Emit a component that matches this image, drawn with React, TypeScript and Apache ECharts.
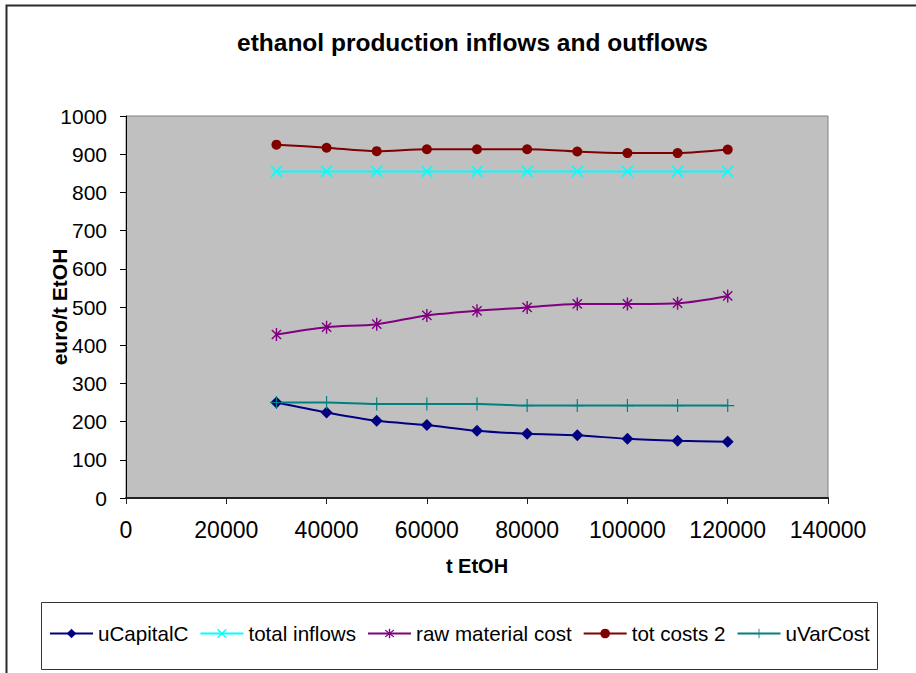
import React, { useEffect, useRef } from "react";
import * as echarts from "echarts";

// Annual production (t EtOH) and unit values (euro/t EtOH)
const tonnes = [30000, 40000, 50000, 60000, 70000, 80000, 90000, 100000, 110000, 120000];
const uCapitalC = [250, 224, 202, 191, 176, 168, 164, 155, 150, 147];
const totalInflows = [855, 855, 855, 855, 855, 855, 855, 855, 855, 855];
const rawMaterialCost = [428, 447, 455, 478, 490, 499, 508, 508, 510, 529];
const totCosts2 = [925, 917, 908, 913, 913, 913, 907, 903, 903, 912];
const uVarCost = [250, 250, 246, 246, 246, 242, 242, 242, 242, 242];

const seriesNames = ["uCapitalC", "total inflows", "raw material cost", "tot costs 2", "uVarCost"];

const FONT = '"Liberation Sans", Arial, sans-serif';

// Builds a filled marker path out of thin bars crossing at the centre.
function barsPath(anglesDeg: number[], half: number, thick: number): string {
  const parts: string[] = [];
  for (const a of anglesDeg) {
    const r = (a * Math.PI) / 180;
    const dx = Math.cos(r), dy = Math.sin(r);
    const nx = -dy, ny = dx;
    const pts = [
      [dx * half + nx * thick, dy * half + ny * thick],
      [dx * half - nx * thick, dy * half - ny * thick],
      [-dx * half - nx * thick, -dy * half - ny * thick],
      [-dx * half + nx * thick, -dy * half + ny * thick],
    ].map((p) => p.map((v) => v.toFixed(3)).join(","));
    parts.push("M" + pts.join(" L") + " Z");
  }
  return "path://" + parts.join(" ");
}

const crossSymbol = barsPath([45, 135], 10, 1.1);
const starSymbol = barsPath([90, 45, 135], 10, 1.1);
const plusSymbol = barsPath([0, 90], 10, 0.9);

export default function App() {
  const ref = useRef<HTMLDivElement>(null);

  useEffect(() => {
    if (!ref.current) return;
    const chart = echarts.init(ref.current, null, { renderer: "svg" });

    const pairs = (vals: number[]) => tonnes.map((t, i) => [t, vals[i]]);

    const mkSeries = (
      name: string,
      vals: number[],
      color: string,
      symbol: string,
      size: number
    ) => ({
      name,
      type: "line",
      data: pairs(vals),
      smooth: 0.3,
      symbol,
      symbolSize: size,
      symbolKeepAspect: true,
      showSymbol: true,
      lineStyle: { color, width: 2 },
      itemStyle: { color, borderWidth: 0 },
      emphasis: { disabled: true },
    });

    const plain = (v: number) => String(v);

    chart.setOption({
      animation: false,
      backgroundColor: "#ffffff",
      title: {
        text: "ethanol production inflows and outflows",
        left: 232,
        top: 25,
        textStyle: { fontFamily: FONT, fontSize: 24.5, fontWeight: "bold", color: "#000" },
      },
      grid: {
        left: 126,
        right: 88,
        top: 116,
        bottom: 175,
        show: true,
        backgroundColor: "#C0C0C0",
        borderColor: "#808080",
        borderWidth: 1,
      },
      legend: {
        data: seriesNames,
        left: 49,
        top: 623,
        padding: 0,
        itemGap: 11,
        itemWidth: 43,
        itemHeight: 12,
        textStyle: { fontFamily: FONT, fontSize: 20.6, color: "#000" },
      },
      xAxis: {
        type: "value",
        min: 0,
        max: 140000,
        interval: 20000,
        name: "t EtOH",
        nameLocation: "middle",
        nameGap: 58,
        nameMoveOverlap: false,
        nameTextStyle: { fontFamily: FONT, fontSize: 20, fontWeight: "bold", color: "#000" },
        axisLine: { show: true, onZero: false, lineStyle: { color: "#222", width: 2 } },
        axisTick: { show: true, inside: false, length: 6, lineStyle: { color: "#222" } },
        axisLabel: { fontFamily: FONT, fontSize: 23, color: "#000", margin: 20, formatter: plain },
        splitLine: { show: false },
      },
      yAxis: {
        type: "value",
        min: 0,
        max: 1000,
        interval: 100,
        name: "euro/t EtOH",
        nameLocation: "middle",
        nameGap: 56,
        nameMoveOverlap: false,
        nameTextStyle: { fontFamily: FONT, fontSize: 21, fontWeight: "bold", color: "#000" },
        axisLine: { show: true, lineStyle: { color: "#000", width: 1 } },
        axisTick: { show: true, inside: false, length: 6, lineStyle: { color: "#000" } },
        axisLabel: { fontFamily: FONT, fontSize: 21, color: "#000", margin: 19, formatter: plain },
        splitLine: { show: false },
      },
      graphic: [
        {
          type: "rect",
          shape: { x: 6.5, y: 5.5, width: 1000, height: 800 },
          style: { fill: "none", stroke: "#2a2a2a", lineWidth: 2 },
          silent: true,
          z: 100,
        },
        {
          type: "rect",
          shape: { x: 41.5, y: 602.5, width: 836, height: 67 },
          style: { fill: "none", stroke: "#333", lineWidth: 1 },
          silent: true,
          z: 100,
        },
      ],
      series: [
        mkSeries("uCapitalC", uCapitalC, "#000080", "diamond", 12),
        mkSeries("total inflows", totalInflows, "#00FFFF", crossSymbol, 12),
        mkSeries("raw material cost", rawMaterialCost, "#800080", starSymbol, 13),
        mkSeries("tot costs 2", totCosts2, "#800000", "circle", 10),
        mkSeries("uVarCost", uVarCost, "#008080", plusSymbol, 13),
      ],
    });

    return () => chart.dispose();
  }, []);

  return (
    <div
      ref={ref}
      style={{ position: "fixed", left: 0, top: 0, width: 916, height: 673 }}
    />
  );
}
